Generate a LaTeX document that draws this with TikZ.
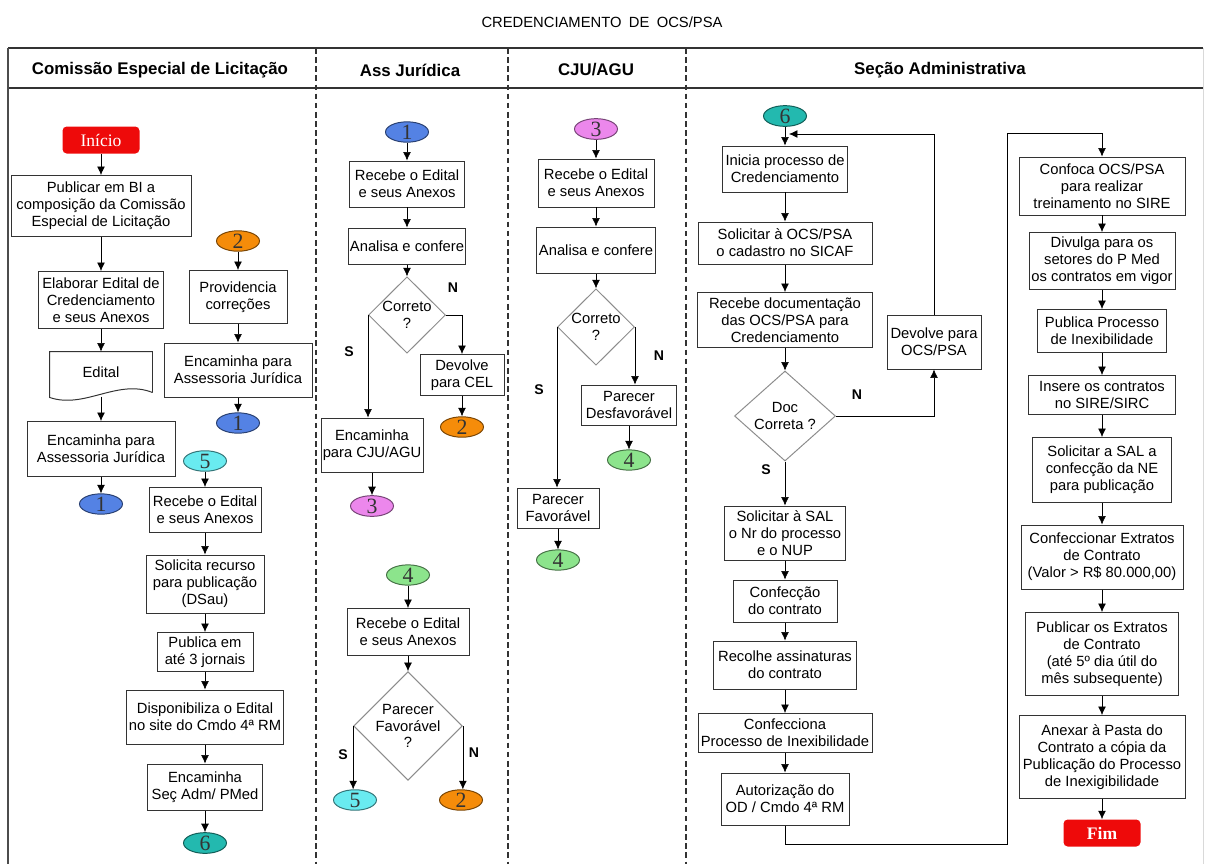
\documentclass[tikz,border=0pt]{standalone}
\usepackage{fontspec}
\setmainfont{Liberation Sans}
\newfontfamily\serifnum{Liberation Serif}
\usetikzlibrary{shapes.geometric,arrows.meta}

\definecolor{cblue}{RGB}{84,130,228}
\definecolor{corange}{RGB}{245,140,10}
\definecolor{cpink}{RGB}{236,135,236}
\definecolor{cgreen}{RGB}{140,228,140}
\definecolor{ccyan}{RGB}{105,235,240}
\definecolor{cteal}{RGB}{35,185,175}
\definecolor{termred}{RGB}{238,10,10}

\tikzset{
  sz/.style 2 args={minimum width=#1*0.025cm, minimum height=#2*0.025cm},
  proc/.style={draw=black!80, line width=0.7pt, fill=white, align=center,
    inner sep=1pt, font=\fontsize{10.5}{12}\selectfont},
  decis/.style={diamond, draw=black!45, line width=0.7pt, align=center,
    inner sep=0pt, font=\fontsize{10.5}{12}\selectfont},
  conn/.style={ellipse, draw=#1!50!black, fill=#1, line width=0.7pt,
    inner sep=0pt, text=black!80, sz={43}{19},
    font=\serifnum\fontsize{15.5}{15}\selectfont},
  term/.style={rectangle, rounded corners=3pt, fill=termred, text=white,
    sz={77}{27}, font=\serifnum\fontsize{12.5}{13}\selectfont},
  yn/.style={font=\bfseries\fontsize{10}{12}\selectfont},
  lanehead/.style={font=\bfseries\fontsize{12}{14}\selectfont},
}

\begin{document}
\begin{tikzpicture}[x=0.025cm, y=-0.025cm, >={Latex[length=6pt,width=5.5pt]}]

	\useasboundingbox (0,0) rectangle (1205,864);

	% frame and lanes
	\node[font=\fontsize{10.5}{12}\selectfont] (title) at (602,22) {CREDENCIAMENTO\enspace DE\enspace OCS/PSA};
	\draw[line width=1.4pt, black!80] (8,48) -- (1203,48);
	\draw[line width=1.4pt, black!80] (8,88) -- (1203,88);
	\draw[line width=1.2pt, black!70] (8,48) -- (8,864);
	\draw[line width=0.5pt, black!15] (1203,48) -- (1203,864);
	\foreach \lx in {316,508,686}
		\draw[black!80, line width=0.8pt, dash pattern=on 4pt off 2.5pt] (\lx,48) -- (\lx,864);

	\node[lanehead] (h_cel) at (160,70) {Comissão Especial de Licitação};
	\node[lanehead] (h_ass) at (410,70) {Ass Jurídica};
	\node[lanehead] (h_cju) at (596,70) {CJU/AGU};
	\node[lanehead] (h_sec) at (940,70) {Seção Administrativa};

	% Comissao Especial de Licitacao
	\node[term]                     (ini)    at (101,140) {Início};
	\node[proc, sz={180}{61}]       (pub)    at (101,206) {Publicar em BI a\\composição da Comissão\\Especial de Licitação};
	\node[proc, sz={125}{57}]       (elab)   at (101,300) {Elaborar Edital de\\Credenciamento\\e seus Anexos};
	\node[proc, draw=none, fill=none, sz={102}{40}] (edital) at (101,372) {Edital};
	\node[proc, sz={148}{55}]       (encl)   at (101,449) {Encaminha para\\Assessoria Jurídica};
	\node[conn=cblue]               (cel_c1) at (101,504) {1};

	\node[conn=corange]             (cel_c2) at (238,241) {2};
	\node[proc, sz={98}{53}]        (prov)   at (238,297) {Providencia\\correções};
	\node[proc, sz={148}{54}]       (encr)   at (238,370) {Encaminha para\\Assessoria Jurídica};
	\node[conn=cblue]               (cel_c1b) at (238,423) {1};

	\node[conn=ccyan]               (cel_c5) at (205,461) {5};
	\node[proc, sz={112}{45}]       (rec_a)  at (205,510) {Recebe o Edital\\e seus Anexos};
	\node[proc, sz={118}{58}]       (solrec) at (205,584) {Solicita recurso\\para publicação\\(DSau)};
	\node[proc, sz={96}{39}]        (pubj)   at (205,652) {Publica em\\até 3 jornais};
	\node[proc, sz={157}{54}]       (disp)   at (205,717) {Disponibiliza o Edital\\no site do Cmdo 4ª RM};
	\node[proc, sz={115}{46}]       (encs)   at (205,787) {Encaminha\\Seç Adm/ PMed};
	\node[conn=cteal]               (cel_c6) at (205,843) {6};

	% Ass Juridica
	\node[conn=cblue]               (ass_c1) at (407,132) {1};
	\node[proc, sz={115}{46}]       (rec_b)  at (407,184) {Recebe o Edital\\e seus Anexos};
	\node[proc, sz={117}{36}]       (ana_b)  at (407,246) {Analisa e confere};
	\node[decis, sz={77}{67}]       (dec_b)  at (407,315) {Correto\\?};
	\node[proc, sz={84}{41}]        (devcel) at (462,375) {Devolve\\para CEL};
	\node[conn=corange]             (ass_c2) at (462,427) {2};
	\node[proc, sz={102}{54}]       (enccju) at (372,445) {Encaminha\\para CJU/AGU};
	\node[conn=cpink]               (ass_c3) at (372,506) {3};
	\node[yn] (n_b) at (453,288) {N};
	\node[yn] (s_b) at (349,352) {S};

	\node[conn=cgreen]              (ass_c4) at (408,575) {4};
	\node[proc, sz={122}{47}]       (rec_c)  at (408,632) {Recebe o Edital\\e seus Anexos};
	\node[decis, sz={107}{91}]      (dec_c)  at (408,726) {Parecer\\Favorável\\?};
	\node[conn=ccyan]               (ass_c5) at (355,800) {5};
	\node[conn=corange]             (ass_c2b) at (461,800) {2};
	\node[yn] (s_c) at (343,755) {S};
	\node[yn] (n_c) at (474,753) {N};

	% CJU/AGU
	\node[conn=cpink]               (cju_c3) at (596,129) {3};
	\node[proc, sz={116}{48}]       (rec_d)  at (596,183) {Recebe o Edital\\e seus Anexos};
	\node[proc, sz={119}{46}]       (ana_d)  at (596,250) {Analisa e confere};
	\node[decis, sz={77}{68}]       (dec_d)  at (596,327) {Correto\\?};
	\node[proc, sz={95}{40}]        (desf)   at (629,405) {Parecer\\Desfavorável};
	\node[conn=cgreen]              (cju_c4) at (629,460) {4};
	\node[proc, sz={82}{40}]        (fav)    at (558,508) {Parecer\\Favorável};
	\node[conn=cgreen]              (cju_c4b) at (558,560) {4};
	\node[yn] (n_d) at (659,356) {N};
	\node[yn] (s_d) at (539,390) {S};

	% Secao Administrativa
	\node[conn=cteal]               (sec_c6) at (785,116) {6};
	\node[proc, sz={125}{46}]       (inicia) at (785,169) {Inicia processo de\\Credenciamento};
	\node[proc, sz={174}{42}]       (solocs) at (785,243) {Solicitar à OCS/PSA\\o cadastro no SICAF};
	\node[proc, sz={175}{55}]       (recdoc) at (785,320) {Recebe documentação\\das OCS/PSA para\\Credenciamento};
	\node[decis, sz={101}{90}]      (dec_e)  at (785,416) {Doc\\Correta ?};
	\node[proc, sz={94}{54}]        (devocs) at (934,342) {Devolve para\\OCS/PSA};
	\node[proc, sz={121}{54}]       (solsal) at (785,533) {Solicitar à SAL\\o Nr do processo\\e o NUP};
	\node[proc, sz={104}{42}]       (confc)  at (785,601) {Confecção\\do contrato};
	\node[proc, sz={143}{48}]       (recol)  at (785,665) {Recolhe assinaturas\\do contrato};
	\node[proc, sz={174}{39}]       (confp)  at (785,733) {Confecciona\\Processo de Inexibilidade};
	\node[proc, sz={128}{52}]       (autor)  at (785,799) {Autorização do\\OD / Cmdo 4ª RM};
	\node[yn] (n_e) at (857,395) {N};
	\node[yn] (s_e) at (766,470) {S};

	\node[proc, sz={166}{58}]       (confoca) at (1102,186) {Confoca OCS/PSA\\para realizar\\treinamento no SIRE};
	\node[proc, sz={146}{57}]       (divulga) at (1102,261) {Divulga para os\\setores do P Med\\os contratos em vigor};
	\node[proc, sz={129}{43}]       (pubproc) at (1102,331) {Publica Processo\\de Inexibilidade};
	\node[proc, sz={147}{39}]       (insere)  at (1102,395) {Insere os contratos\\no SIRE/SIRC};
	\node[proc, sz={139}{65}]       (solne)   at (1102,470) {Solicitar a SAL a\\confecção da NE\\para publicação};
	\node[proc, sz={162}{64}]       (confext) at (1102,557) {Confeccionar Extratos\\de Contrato\\(Valor > R\$ 80.000,00)};
	\node[proc, sz={153}{83}]       (pubext)  at (1102,654) {Publicar os Extratos\\de Contrato\\(até 5º dia útil do\\mês subsequente)};
	\node[proc, sz={166}{83}]       (anexar)  at (1102,757) {Anexar à Pasta do\\Contrato a cópia da\\Publicação do Processo\\de Inexigibilidade};
	\node[term, font=\serifnum\bfseries\fontsize{12.5}{13}\selectfont] (fim) at (1102,833) {Fim};

	\coordinate (loopin) at (789,134);
	\coordinate (low)    at (1007,844);
	\coordinate (high)   at (1007,133);

	% document shape
	\draw[black!80, line width=0.7pt] (edital.south east) -- (edital.north east) -- (edital.north west)
		-- ([yshift=-3.5pt]edital.south west)
		.. controls +(35,12) and +(-35,-14) .. (edital.south east);

	% arrows
	\draw[->] (ini) -- (pub);
	\draw[->] (pub) -- (elab);
	\draw[->] (elab) -- (edital);
	\draw[->] ([yshift=-3pt]edital.south) -- (encl);
	\draw[->] (encl) -- (cel_c1);
	\draw[->] (cel_c2) -- (prov);
	\draw[->] (prov) -- (encr);
	\draw[->] (encr) -- (cel_c1b);
	\draw[->] (cel_c5) -- (rec_a);
	\draw[->] (rec_a) -- (solrec);
	\draw[->] (solrec) -- (pubj);
	\draw[->] (pubj) -- (disp);
	\draw[->] (disp) -- (encs);
	\draw[->] (encs) -- (cel_c6);

	\draw[->] (ass_c1) -- (rec_b);
	\draw[->] (rec_b) -- (ana_b);
	\draw[->] (ana_b) -- (dec_b);
	\draw[->] (dec_b.east) -| (devcel.north);
	\draw[->] (devcel) -- (ass_c2);
	\draw[->] (dec_b.west) -- (dec_b.west |- enccju.north);
	\draw[->] (enccju) -- (ass_c3);
	\draw[->] (ass_c4) -- (rec_c);
	\draw[->] (rec_c) -- (dec_c);
	\draw[->] (dec_c.west) -- (dec_c.west |- ass_c5.north);
	\draw[->] (dec_c.east) -- (dec_c.east |- ass_c2b.north);

	\draw[->] (cju_c3) -- (rec_d);
	\draw[->] (rec_d) -- (ana_d);
	\draw[->] (ana_d) -- (dec_d);
	\draw[->] (dec_d.east) -- (dec_d.east |- desf.north);
	\draw[->] (desf) -- (cju_c4);
	\draw[->] (dec_d.west) -- (dec_d.west |- fav.north);
	\draw[->] (fav) -- (cju_c4b);

	\draw[->] (sec_c6) -- (inicia);
	\draw[->] (inicia) -- (solocs);
	\draw[->] (solocs) -- (recdoc);
	\draw[->] (recdoc) -- (dec_e);
	\draw[->] (dec_e.east) -| (devocs.south);
	\draw[->] (devocs.north) |- (loopin);
	\draw[->] (dec_e) -- (solsal);
	\draw[->] (solsal) -- (confc);
	\draw[->] (confc) -- (recol);
	\draw[->] (recol) -- (confp);
	\draw[->] (confp) -- (autor);
	\draw[->] (autor.south) |- (low) -- (high) -| (confoca.north);
	\draw[->] (confoca) -- (divulga);
	\draw[->] (divulga) -- (pubproc);
	\draw[->] (pubproc) -- (insere);
	\draw[->] (insere) -- (solne);
	\draw[->] (solne) -- (confext);
	\draw[->] (confext) -- (pubext);
	\draw[->] (pubext) -- (anexar);
	\draw[->] (anexar) -- (fim);

\end{tikzpicture}
\end{document}
